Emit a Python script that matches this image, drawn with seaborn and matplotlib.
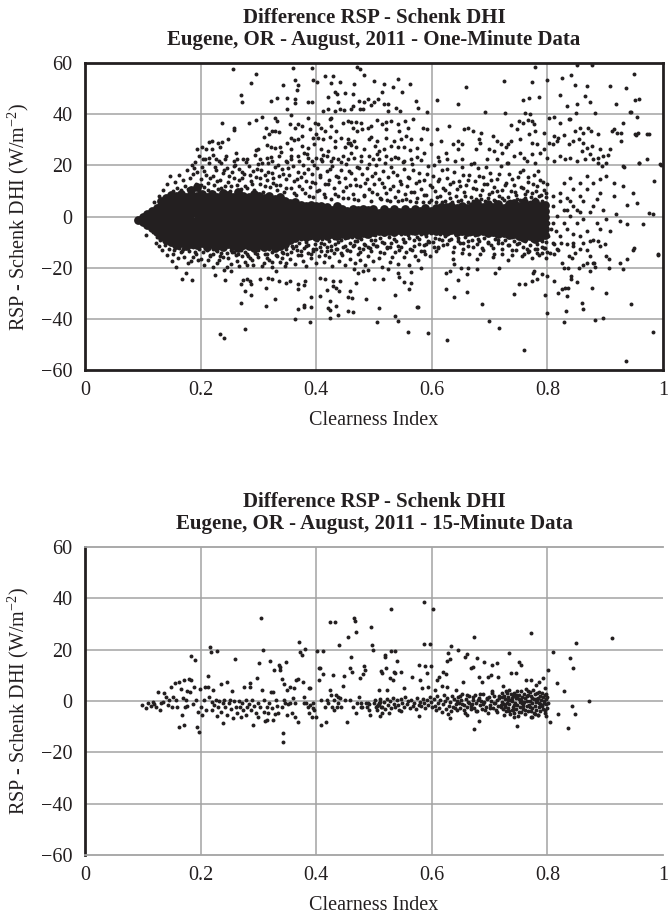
import matplotlib
matplotlib.use("Agg")
import matplotlib.pyplot as plt
import pandas as pd
import seaborn as sns

# ---------------- data ----------------
x_ticks = [0, 0.2, 0.4, 0.6, 0.8, 1]
x_tick_labels = ["0", "0.2", "0.4", "0.6", "0.8", "1"]
y_ticks = [-60, -40, -20, 0, 20, 40, 60]

title_top = "Difference RSP - Schenk DHI\nEugene, OR - August, 2011 - One-Minute Data"
title_bottom = "Difference RSP - Schenk DHI\nEugene, OR - August, 2011 - 15-Minute Data"
y_label = "RSP - Schenk DHI (W/m$^{-2}$)"
x_label = "Clearness Index"

# One-minute data: dense core of the cloud, by clearness-index column
minute_core_cols = [
    (0.092, [-1.5]), (0.100, [-2.2, -0.2]), (0.108, [-3.2, -0.9, 1.1]),
    (0.116, [-4.6, -2.3, 0.1, 2.3]), (0.124, [-6.1, -3.7, -1.3, 1.1, 3.5]),
    (0.132, [-7.8, -5.3, -2.9, -0.5, 1.9, 4.2, 5.9]),
    (0.140, [-9.2, -6.8, -4.3, -1.9, 0.5, 2.9, 5.2, 7.1]),
    (0.148, [-10.1, -7.6, -5.2, -2.8, -0.4, 2.0, 4.4, 6.7, 8.5]),
    (0.157, [-11.0, -8.5, -6.1, -3.7, -1.3, 1.1, 3.5, 5.9, 8.2]),
    (0.166, [-10.4, -8.0, -5.6, -3.2, -0.8, 1.6, 4.0, 6.4, 9.0]),
    (0.175, [-11.6, -9.1, -6.7, -4.3, -1.9, 0.5, 2.9, 5.3, 7.7]),
    (0.184, [-10.8, -8.4, -6.0, -3.6, -1.2, 1.2, 3.6, 6.0, 8.6, 10.5]),
    (0.193, [-11.2, -8.8, -6.4, -4.0, -1.6, 0.8, 3.2, 5.6, 8.0, 11.5]),
    (0.202, [-10.2, -7.8, -5.4, -3.0, -0.6, 1.8, 4.2, 6.6, 8.8]),
    (0.211, [-11.8, -9.3, -6.9, -4.5, -2.1, 0.3, 2.7, 5.1, 7.5]),
    (0.220, [-10.6, -8.2, -5.8, -3.4, -1.0, 1.4, 3.8, 6.2, 8.9]),
    (0.229, [-11.4, -9.0, -6.6, -4.2, -1.8, 0.6, 3.0, 5.4, 7.8]),
    (0.238, [-12.0, -9.6, -7.2, -4.8, -2.4, 0.0, 2.4, 4.8, 7.2, 9.2]),
    (0.247, [-10.9, -8.5, -6.1, -3.7, -1.3, 1.1, 3.5, 5.9, 8.3]),
    (0.256, [-11.5, -9.1, -6.7, -4.3, -1.9, 0.5, 2.9, 5.3, 7.7]),
    (0.265, [-12.2, -9.8, -7.4, -5.0, -2.6, -0.2, 2.2, 4.6, 7.0, 9.4]),
    (0.274, [-11.0, -8.6, -6.2, -3.8, -1.4, 1.0, 3.4, 5.8, 8.2]),
    (0.283, [-11.7, -9.3, -6.9, -4.5, -2.1, 0.3, 2.7, 5.1, 7.5]),
    (0.292, [-12.4, -10.0, -7.6, -5.2, -2.8, -0.4, 2.0, 4.4, 6.8, 8.9]),
    (0.301, [-11.3, -8.9, -6.5, -4.1, -1.7, 0.7, 3.1, 5.5, 7.9]),
    (0.310, [-12.0, -9.6, -7.2, -4.8, -2.4, 0.0, 2.4, 4.8, 7.2]),
    (0.319, [-11.1, -8.7, -6.3, -3.9, -1.5, 0.9, 3.3, 5.7, 8.1]),
    (0.328, [-12.3, -9.9, -7.5, -5.1, -2.7, -0.3, 2.1, 4.5, 6.9]),
    (0.337, [-11.4, -9.0, -6.6, -4.2, -1.8, 0.6, 3.0, 5.4, 7.6]),
    (0.346, [-10.6, -8.2, -5.8, -3.4, -1.0, 1.4, 3.8, 6.2]),
    (0.355, [-9.0, -6.6, -4.2, -1.8, 0.6, 3.0, 5.4]),
    (0.364, [-8.2, -5.8, -3.4, -1.0, 1.4, 3.8, 5.6]),
    (0.373, [-7.6, -5.2, -2.8, -0.4, 2.0, 4.4]),
    (0.382, [-8.0, -5.6, -3.2, -0.8, 1.6, 4.0]),
    (0.391, [-7.4, -5.0, -2.6, -0.2, 2.2, 4.6]),
    (0.400, [-7.9, -5.5, -3.1, -0.7, 1.7, 4.1]),
    (0.409, [-7.2, -4.8, -2.4, 0.0, 2.4, 4.3]),
    (0.418, [-7.7, -5.3, -2.9, -0.5, 1.9, 3.9]),
    (0.427, [-7.0, -4.6, -2.2, 0.2, 2.6]),
    (0.436, [-7.5, -5.1, -2.7, -0.3, 2.1, 4.0]),
    (0.445, [-6.8, -4.4, -2.0, 0.4, 2.8]),
    (0.454, [-7.3, -4.9, -2.5, -0.1, 2.3]),
    (0.463, [-6.6, -4.2, -1.8, 0.6, 3.0]),
    (0.472, [-7.1, -4.7, -2.3, 0.1, 2.5]),
    (0.481, [-6.4, -4.0, -1.6, 0.8, 3.1]),
    (0.490, [-6.9, -4.5, -2.1, 0.3, 2.6]),
    (0.499, [-6.2, -3.8, -1.4, 1.0, 2.9]),
    (0.508, [-5.8, -3.4, -1.0, 1.4]),
    (0.517, [-6.0, -3.6, -1.2, 1.2, 3.0]),
    (0.526, [-5.5, -3.1, -0.7, 1.7]),
    (0.535, [-5.9, -3.5, -1.1, 1.3, 2.9]),
    (0.544, [-5.4, -3.0, -0.6, 1.8]),
    (0.553, [-5.7, -3.3, -0.9, 1.5, 3.1]),
    (0.562, [-5.3, -2.9, -0.5, 1.9]),
    (0.571, [-5.8, -3.4, -1.0, 1.4, 3.0]),
    (0.580, [-5.2, -2.8, -0.4, 2.0]),
    (0.589, [-5.6, -3.2, -0.8, 1.6, 3.2]),
    (0.598, [-5.1, -2.7, -0.3, 2.1]),
    (0.607, [-5.7, -3.3, -0.9, 1.5, 3.4]),
    (0.616, [-5.3, -2.9, -0.5, 1.9, 3.8]),
    (0.625, [-5.9, -3.5, -1.1, 1.3, 3.6]),
    (0.634, [-5.4, -3.0, -0.6, 1.8, 4.0]),
    (0.643, [-6.0, -3.6, -1.2, 1.2, 3.5]),
    (0.652, [-5.5, -3.1, -0.7, 1.7, 4.1]),
    (0.661, [-6.1, -3.7, -1.3, 1.1, 3.5]),
    (0.670, [-5.6, -3.2, -0.8, 1.6, 4.0]),
    (0.679, [-6.2, -3.8, -1.4, 1.0, 3.4, 5.2]),
    (0.688, [-5.7, -3.3, -0.9, 1.5, 3.9]),
    (0.697, [-6.4, -4.0, -1.6, 0.8, 3.2, 5.0]),
    (0.706, [-6.0, -3.6, -1.2, 1.2, 3.6]),
    (0.715, [-6.8, -4.4, -2.0, 0.4, 2.8, 5.0]),
    (0.724, [-6.3, -3.9, -1.5, 0.9, 3.3]),
    (0.733, [-7.2, -4.8, -2.4, 0.0, 2.4, 4.8]),
    (0.742, [-6.7, -4.3, -1.9, 0.5, 2.9, 5.3]),
    (0.751, [-7.8, -5.4, -3.0, -0.6, 1.8, 4.2]),
    (0.760, [-8.4, -6.0, -3.6, -1.2, 1.2, 3.6, 5.8]),
    (0.769, [-7.6, -5.2, -2.8, -0.4, 2.0, 4.4]),
    (0.778, [-8.9, -6.5, -4.1, -1.7, 0.7, 3.1, 5.5]),
    (0.787, [-8.0, -5.6, -3.2, -0.8, 1.6, 4.0]),
    (0.796, [-7.3, -4.9, -2.5, -0.1, 2.3, 4.7]),
]

# One-minute data: scattered points above the core (y > 20)
minute_high = [
    (0.256, 57.6), (0.295, 55.7), (0.288, 52.2), (0.269, 47.6), (0.272, 44.6), (0.360, 57.9), (0.392, 57.9),
    (0.363, 53.5), (0.369, 51.4), (0.367, 49.5), (0.342, 51.4), (0.321, 45.1), (0.332, 46.5), (0.349, 46.5),
    (0.364, 45.9), (0.364, 44.3), (0.385, 44.6), (0.392, 44.8), (0.350, 42.0), (0.356, 39.6), (0.395, 53.5),
    (0.402, 52.7), (0.416, 55.0), (0.429, 54.8), (0.425, 52.2), (0.441, 52.4), (0.470, 58.3), (0.475, 57.6),
    (0.483, 55.3), (0.466, 51.8), (0.500, 53.1), (0.518, 51.8), (0.532, 50.5), (0.541, 53.7), (0.563, 51.9),
    (0.514, 48.8), (0.507, 46.1), (0.549, 48.5), (0.432, 48.5), (0.436, 47.8), (0.449, 48.1), (0.463, 47.8),
    (0.420, 46.9), (0.438, 44.6), (0.464, 43.3), (0.474, 45.2), (0.482, 44.6), (0.490, 45.9), (0.500, 44.8),
    (0.495, 43.5), (0.518, 43.9), (0.524, 43.9), (0.538, 42.6), (0.545, 41.3), (0.525, 41.3), (0.573, 45.2),
    (0.576, 42.6), (0.411, 41.3), (0.420, 42.0), (0.432, 41.3), (0.441, 42.0), (0.448, 41.7), (0.461, 42.0),
    (0.475, 42.0), (0.481, 42.0), (0.426, 38.7), (0.423, 38.0), (0.237, 36.7), (0.257, 34.8), (0.257, 33.9),
    (0.283, 36.7), (0.295, 37.8), (0.306, 39.1), (0.329, 38.7), (0.332, 37.4), (0.313, 34.8), (0.323, 33.5),
    (0.329, 33.5), (0.335, 33.1), (0.318, 32.2), (0.309, 31.2), (0.355, 36.1), (0.363, 34.8), (0.369, 36.1),
    (0.376, 35.4), (0.385, 38.7), (0.398, 36.7), (0.403, 36.1), (0.390, 34.1), (0.409, 34.8), (0.415, 33.5),
    (0.400, 32.2), (0.426, 35.4), (0.435, 33.5), (0.446, 36.7), (0.455, 37.4), (0.461, 37.0), (0.469, 37.0),
    (0.478, 36.5), (0.464, 34.8), (0.471, 33.5), (0.479, 34.1), (0.489, 34.8), (0.495, 35.4), (0.506, 37.8),
    (0.513, 36.1), (0.521, 37.0), (0.530, 37.4), (0.541, 36.1), (0.553, 37.4), (0.567, 38.0), (0.521, 34.1),
    (0.544, 33.5), (0.558, 34.8), (0.357, 30.6), (0.362, 29.8), (0.369, 30.2), (0.376, 31.5), (0.394, 30.6),
    (0.403, 30.8), (0.412, 30.2), (0.423, 31.2), (0.432, 29.5), (0.443, 30.8), (0.455, 30.2), (0.458, 28.9),
    (0.466, 29.5), (0.492, 30.2), (0.495, 31.2), (0.506, 29.5), (0.521, 30.8), (0.535, 29.5), (0.547, 30.2),
    (0.555, 31.5), (0.564, 30.2), (0.203, 27.3), (0.214, 29.2), (0.220, 29.5), (0.230, 28.9), (0.237, 29.2),
    (0.247, 30.2), (0.193, 26.3), (0.209, 26.3), (0.219, 26.5), (0.234, 27.3), (0.295, 26.0), (0.300, 26.5),
    (0.315, 27.8), (0.321, 27.3), (0.329, 26.9), (0.337, 27.3), (0.349, 28.9), (0.357, 26.3), (0.375, 27.6),
    (0.386, 26.9), (0.397, 28.2), (0.409, 26.5), (0.420, 25.6), (0.432, 27.3), (0.449, 27.3), (0.455, 28.9),
    (0.461, 27.8), (0.469, 27.3), (0.483, 26.3), (0.501, 27.6), (0.509, 25.6), (0.518, 26.5), (0.529, 27.6),
    (0.541, 27.3), (0.552, 27.3), (0.563, 26.0), (0.575, 26.9), (0.197, 23.7), (0.204, 22.4), (0.214, 23.0),
    (0.226, 22.4), (0.243, 22.4), (0.257, 21.7), (0.263, 22.4), (0.274, 22.4), (0.303, 22.4), (0.315, 23.0),
    (0.323, 21.7), (0.335, 23.7), (0.347, 21.7), (0.357, 22.4), (0.369, 23.7), (0.378, 24.7), (0.386, 23.0),
    (0.392, 21.7), (0.400, 23.0), (0.409, 22.4), (0.418, 23.7), (0.426, 21.7), (0.437, 22.6), (0.446, 23.7),
    (0.455, 22.4), (0.466, 23.0), (0.477, 21.7), (0.492, 23.7), (0.498, 22.4), (0.509, 22.6), (0.521, 23.7),
    (0.529, 22.4), (0.541, 23.0), (0.552, 21.7), (0.564, 22.4), (0.574, 23.4),
    (0.779, 58.3), (0.852, 59.2), (0.877, 59.2), (0.724, 53.1), (0.774, 52.7), (0.799, 53.5), (0.825, 54.0),
    (0.841, 55.3), (0.949, 55.6), (0.659, 50.8), (0.848, 51.4), (0.868, 51.1), (0.909, 51.1), (0.936, 50.1),
    (0.822, 47.5), (0.865, 47.2), (0.874, 44.8), (0.918, 43.9), (0.951, 45.6), (0.959, 46.1), (0.609, 45.6),
    (0.645, 43.9), (0.758, 45.4), (0.768, 46.3), (0.785, 46.9), (0.834, 43.3), (0.851, 43.9), (0.592, 41.0),
    (0.692, 41.0), (0.726, 40.3), (0.762, 40.4), (0.770, 40.0), (0.802, 38.7), (0.812, 39.1), (0.837, 38.3),
    (0.839, 38.0), (0.850, 40.4), (0.882, 40.4), (0.944, 40.7), (0.955, 39.1), (0.751, 37.4), (0.758, 36.7),
    (0.766, 37.8), (0.774, 37.4), (0.777, 36.1), (0.737, 35.7), (0.747, 34.1), (0.779, 33.5), (0.794, 32.8),
    (0.821, 36.7), (0.811, 31.5), (0.819, 30.8), (0.828, 31.8), (0.848, 33.5), (0.856, 34.8), (0.862, 32.8),
    (0.870, 34.8), (0.876, 33.5), (0.888, 32.2), (0.911, 33.5), (0.920, 32.8), (0.930, 36.7), (0.953, 31.8),
    (0.976, 32.2), (0.927, 29.5), (0.585, 34.8), (0.592, 34.4), (0.609, 34.4), (0.629, 35.4), (0.656, 34.1),
    (0.662, 34.8), (0.672, 33.5), (0.685, 32.8), (0.705, 31.5), (0.713, 29.5), (0.719, 28.2), (0.728, 27.3),
    (0.731, 28.2), (0.737, 29.5), (0.753, 30.2), (0.768, 32.2), (0.774, 28.9), (0.782, 28.2), (0.794, 26.3),
    (0.802, 28.9), (0.809, 28.2), (0.817, 29.5), (0.837, 28.2), (0.845, 29.5), (0.854, 30.2), (0.862, 28.9),
    (0.868, 26.9), (0.877, 27.6), (0.859, 25.6), (0.582, 30.2), (0.599, 28.2), (0.616, 29.5), (0.636, 28.3),
    (0.645, 29.5), (0.652, 28.2), (0.682, 30.2), (0.684, 28.6), (0.587, 25.0), (0.610, 23.4), (0.625, 25.0),
    (0.645, 26.3), (0.676, 26.3), (0.699, 26.5), (0.708, 25.6), (0.722, 25.0), (0.742, 23.7), (0.753, 25.0),
    (0.759, 23.0), (0.774, 24.3), (0.788, 25.0), (0.799, 23.0), (0.822, 23.7), (0.839, 23.0), (0.874, 24.3),
    (0.888, 23.0), (0.897, 23.7), (0.905, 23.9), (0.928, 32.5), (0.951, 32.2), (0.959, 21.0), (0.972, 22.4),
    (0.932, 19.5), (0.996, 20.3), (0.613, 21.7), (0.627, 22.4), (0.653, 22.4), (0.673, 21.0), (0.696, 22.4),
    (0.713, 22.4), (0.731, 21.0), (0.765, 21.7), (0.779, 21.0), (0.811, 21.7), (0.831, 22.4), (0.851, 21.7),
    (0.865, 22.4), (0.888, 21.0), (0.894, 19.7),
]

# One-minute data: scattered points below the core (y < -20)
minute_low = [
    (0.233, -45.8), (0.241, -47.6), (0.277, -43.9), (0.363, -40.0), (0.389, -41.3), (0.313, -35.0),
    (0.270, -33.7), (0.329, -32.4), (0.288, -30.8), (0.277, -29.2), (0.269, -26.3), (0.274, -24.8),
    (0.280, -24.6), (0.286, -25.2), (0.288, -26.5), (0.313, -28.1), (0.302, -24.6), (0.316, -23.9),
    (0.323, -24.3), (0.335, -25.2), (0.347, -25.9), (0.355, -25.2), (0.369, -26.3), (0.379, -26.9),
    (0.380, -25.2), (0.369, -28.5), (0.368, -36.3), (0.379, -34.4), (0.378, -35.4), (0.391, -35.3),
    (0.391, -31.4), (0.406, -31.1), (0.418, -28.9), (0.423, -33.1), (0.421, -35.7), (0.423, -36.6),
    (0.434, -34.8), (0.438, -38.3), (0.424, -39.7), (0.429, -27.2), (0.435, -27.8), (0.439, -29.2),
    (0.429, -25.2), (0.441, -25.2), (0.415, -24.6), (0.406, -23.9), (0.455, -31.4), (0.462, -31.8),
    (0.455, -36.9), (0.463, -37.4), (0.459, -29.2), (0.469, -25.9), (0.486, -32.2), (0.509, -35.7),
    (0.505, -41.3), (0.500, -24.3), (0.537, -30.8), (0.537, -39.0), (0.541, -40.8), (0.542, -22.0),
    (0.544, -23.5), (0.551, -25.6), (0.559, -45.0), (0.561, -28.5), (0.564, -26.1), (0.575, -35.4),
    (0.564, -21.7), (0.167, -24.3), (0.185, -24.8), (0.174, -22.2), (0.225, -23.0), (0.243, -24.8),
    (0.240, -20.9), (0.253, -21.3), (0.465, -20.4), (0.472, -22.0), (0.481, -21.4), (0.489, -21.0),
    (0.516, -24.3), (0.525, -20.4),
    (0.936, -56.6), (0.759, -52.3), (0.626, -48.4), (0.593, -45.5), (0.576, -35.4), (0.699, -40.7),
    (0.717, -43.5), (0.686, -34.0), (0.638, -31.4), (0.625, -28.5), (0.661, -29.4), (0.645, -24.8),
    (0.625, -22.0), (0.632, -21.3), (0.661, -22.4), (0.679, -20.7), (0.709, -22.0), (0.742, -30.1),
    (0.750, -26.5), (0.762, -26.3), (0.774, -25.2), (0.782, -24.3), (0.775, -22.2), (0.777, -21.3),
    (0.791, -22.4), (0.799, -23.3), (0.795, -30.8), (0.799, -37.9), (0.828, -41.3), (0.832, -37.0),
    (0.834, -31.1), (0.818, -29.8), (0.825, -28.2), (0.831, -27.8), (0.835, -27.8), (0.812, -25.2),
    (0.841, -24.6), (0.841, -23.3), (0.851, -25.6), (0.859, -33.7), (0.862, -36.3), (0.877, -27.8),
    (0.882, -40.5), (0.896, -39.7), (0.901, -29.8), (0.874, -21.3), (0.944, -34.1), (0.983, -45.0),
]

# One-minute data: moderately dense halo just above the core
minute_near_up = [
    (0.152, 9.8), (0.156, 13.5), (0.159, 11.2), (0.163, 16.4), (0.166, 10.4), (0.170, 14.1), (0.173, 12.0),
    (0.176, 18.3), (0.179, 10.9), (0.182, 15.2), (0.185, 20.1), (0.187, 16.8), (0.189, 18.9), (0.190, 21.5),
    (0.192, 12.7), (0.194, 17.6), (0.197, 10.1), (0.200, 14.8), (0.203, 19.4), (0.206, 11.6), (0.209, 16.2),
    (0.212, 13.3), (0.215, 20.8), (0.218, 9.6), (0.221, 15.7), (0.224, 12.2), (0.227, 18.1), (0.230, 10.8),
    (0.233, 14.4), (0.236, 21.0), (0.239, 16.9), (0.242, 11.9), (0.245, 19.0), (0.248, 13.6), (0.251, 9.9),
    (0.254, 17.3), (0.257, 15.0), (0.260, 20.3), (0.263, 12.5), (0.266, 18.6), (0.269, 10.6), (0.272, 14.9),
    (0.275, 16.6), (0.278, 21.4), (0.281, 11.3), (0.284, 19.6), (0.287, 13.9), (0.290, 17.8), (0.293, 10.2),
    (0.296, 15.4), (0.299, 20.6), (0.302, 12.8), (0.305, 18.0), (0.308, 9.7), (0.311, 16.1), (0.314, 14.2),
    (0.317, 20.9), (0.320, 11.4), (0.323, 17.0), (0.326, 13.1), (0.329, 19.3), (0.332, 10.5), (0.335, 15.9),
    (0.338, 12.3), (0.341, 18.7), (0.344, 9.4), (0.347, 14.6), (0.350, 21.2), (0.353, 16.3), (0.356, 11.0),
    (0.359, 19.9), (0.362, 13.8), (0.365, 8.6), (0.368, 17.4), (0.371, 12.1), (0.374, 15.6), (0.377, 20.2),
    (0.380, 9.2), (0.383, 14.0), (0.386, 18.4), (0.389, 11.7), (0.392, 16.7), (0.395, 7.8), (0.398, 13.0),
    (0.401, 19.1), (0.404, 10.3), (0.407, 15.3), (0.410, 21.6), (0.413, 8.9), (0.416, 12.6), (0.419, 17.7),
    (0.422, 14.3), (0.425, 6.9), (0.428, 19.8), (0.431, 11.1), (0.434, 16.0), (0.437, 8.1), (0.440, 13.4),
    (0.443, 18.2), (0.446, 10.0), (0.449, 15.1), (0.452, 20.7), (0.455, 7.4), (0.458, 12.4), (0.461, 17.1),
    (0.464, 9.0), (0.467, 14.7), (0.470, 19.5), (0.473, 6.6), (0.476, 11.8), (0.479, 16.5), (0.482, 8.4),
    (0.485, 13.2), (0.488, 18.8), (0.491, 10.7), (0.494, 6.2), (0.497, 15.8), (0.500, 12.9), (0.503, 20.0),
    (0.506, 8.7), (0.509, 14.5), (0.512, 6.8), (0.515, 17.9), (0.518, 11.5), (0.521, 9.3), (0.524, 15.5),
    (0.527, 5.9), (0.530, 19.2), (0.533, 12.0), (0.536, 7.7), (0.539, 16.3), (0.542, 10.1), (0.545, 13.7),
    (0.548, 6.4), (0.551, 18.5), (0.554, 8.8), (0.557, 11.9), (0.560, 15.0), (0.563, 6.0), (0.566, 20.4),
    (0.569, 9.5), (0.572, 13.3), (0.575, 7.2), (0.578, 17.2), (0.581, 10.9), (0.584, 5.8), (0.587, 14.2),
    (0.590, 8.3), (0.593, 19.7), (0.596, 12.2), (0.599, 6.5), (0.602, 16.0), (0.605, 9.8), (0.608, 5.7),
    (0.611, 13.8), (0.614, 7.9), (0.617, 18.1), (0.620, 11.3), (0.623, 6.1), (0.626, 15.2), (0.629, 9.1),
    (0.632, 12.8), (0.635, 5.6), (0.638, 17.5), (0.641, 8.0), (0.644, 10.8), (0.647, 14.0), (0.650, 6.3),
    (0.653, 19.3), (0.656, 9.6), (0.659, 12.5), (0.662, 5.5), (0.665, 16.4), (0.668, 7.5), (0.671, 11.0),
    (0.674, 13.9), (0.677, 6.7), (0.680, 18.9), (0.683, 8.6), (0.686, 10.4), (0.689, 15.6), (0.692, 5.9),
    (0.695, 12.7), (0.698, 7.3), (0.701, 17.0), (0.704, 9.4), (0.707, 11.6), (0.710, 6.0), (0.713, 14.8),
    (0.716, 8.2), (0.719, 19.8), (0.722, 10.2), (0.725, 6.6), (0.728, 13.1), (0.731, 7.8), (0.734, 16.8),
    (0.737, 9.9), (0.740, 5.8), (0.743, 12.3), (0.746, 8.5), (0.749, 15.3), (0.752, 6.4), (0.755, 11.4),
    (0.758, 18.2), (0.761, 7.1), (0.764, 10.0), (0.767, 13.6), (0.770, 5.7), (0.773, 9.2), (0.776, 16.1),
    (0.779, 6.9), (0.782, 12.0), (0.785, 8.0), (0.788, 14.4), (0.791, 6.2), (0.794, 10.5), (0.797, 7.6),
    (0.799, 12.6), (0.135, 10.5), (0.142, 12.8), (0.128, 7.9), (0.147, 15.9), (0.120, 5.5),
    (0.201, 12.2), (0.205, 17.8), (0.208, 22.5), (0.213, 10.5), (0.217, 15.1), (0.221, 24.0), (0.225, 19.4),
    (0.228, 13.7), (0.232, 21.8), (0.235, 11.3), (0.240, 18.2), (0.244, 23.6), (0.249, 15.8), (0.253, 12.0),
    (0.258, 19.9), (0.262, 24.8), (0.267, 14.3), (0.271, 17.4), (0.276, 11.9), (0.280, 22.6), (0.285, 16.2),
    (0.289, 12.6), (0.294, 24.2), (0.298, 18.4), (0.303, 14.9), (0.307, 21.1), (0.312, 11.8), (0.316, 17.3),
    (0.321, 23.4), (0.325, 15.2), (0.330, 12.4), (0.334, 20.0), (0.339, 25.1), (0.343, 16.8), (0.348, 11.1),
    (0.352, 18.9), (0.357, 23.8), (0.361, 9.3), (0.366, 14.6), (0.370, 21.7), (0.375, 10.7), (0.379, 17.0),
    (0.384, 24.5), (0.388, 8.2), (0.393, 13.5), (0.397, 20.3), (0.402, 9.9), (0.406, 16.4), (0.411, 24.1),
    (0.415, 7.6), (0.420, 12.9), (0.424, 18.6), (0.429, 22.9), (0.433, 8.8), (0.438, 15.5), (0.442, 21.3),
    (0.447, 7.1), (0.451, 11.6), (0.456, 17.8), (0.460, 24.7), (0.465, 6.8), (0.469, 12.2), (0.474, 19.0),
    (0.478, 23.5), (0.483, 7.9), (0.487, 14.8), (0.492, 20.5), (0.496, 9.7), (0.501, 16.9), (0.505, 24.3),
    (0.510, 7.4), (0.514, 13.0), (0.519, 20.8), (0.523, 6.3), (0.528, 10.9), (0.532, 17.6), (0.537, 23.1),
    (0.541, 5.9), (0.546, 12.7), (0.550, 21.4), (0.555, 7.0), (0.559, 15.4), (0.564, 9.6), (0.568, 18.3),
    (0.573, 5.6), (0.577, 13.9), (0.582, 22.2), (0.586, 8.4), (0.591, 16.5), (0.595, 5.8), (0.600, 11.7),
    (0.604, 20.1), (0.609, 7.7), (0.613, 14.6), (0.618, 5.5), (0.622, 10.3), (0.627, 18.7), (0.631, 7.2),
    (0.636, 13.4), (0.640, 21.6), (0.645, 6.0), (0.649, 11.8), (0.654, 16.2), (0.658, 7.9), (0.663, 14.1),
    (0.667, 20.6), (0.672, 6.2), (0.676, 10.6), (0.681, 15.8), (0.685, 6.9), (0.690, 12.9), (0.694, 19.4),
    (0.699, 8.8), (0.703, 14.3), (0.708, 6.5), (0.712, 10.1), (0.717, 16.6), (0.721, 7.4), (0.726, 12.4),
    (0.730, 20.9), (0.735, 6.1), (0.739, 14.7), (0.744, 9.5), (0.748, 7.0), (0.753, 17.4), (0.757, 11.2),
    (0.762, 8.7), (0.766, 15.5), (0.771, 7.7), (0.775, 12.8), (0.780, 9.8), (0.784, 17.9), (0.789, 8.6),
    (0.793, 13.5), (0.798, 9.1),
]

# One-minute data: moderately dense halo just below the core
minute_near_down = [
    (0.118, -6.2), (0.124, -7.9), (0.129, -9.3), (0.134, -8.4), (0.138, -11.0), (0.142, -9.8), (0.146, -12.5),
    (0.150, -10.6), (0.154, -13.1), (0.158, -11.8), (0.162, -12.2), (0.166, -14.0), (0.170, -12.8),
    (0.175, -11.4), (0.180, -13.6), (0.186, -12.0), (0.192, -14.6), (0.198, -12.6), (0.204, -13.8),
    (0.210, -11.9), (0.216, -14.9), (0.222, -12.7), (0.228, -13.5), (0.234, -15.3), (0.240, -12.3),
    (0.246, -14.2), (0.252, -13.0), (0.258, -11.7), (0.264, -14.7), (0.270, -12.9), (0.276, -13.9),
    (0.282, -15.6), (0.288, -12.1), (0.294, -14.4), (0.300, -13.2), (0.306, -11.8), (0.312, -14.8),
    (0.318, -12.5), (0.324, -13.7), (0.330, -15.0), (0.336, -12.2), (0.342, -14.1), (0.348, -12.8),
    (0.354, -9.4), (0.358, -11.6), (0.362, -8.8), (0.366, -13.0), (0.370, -10.2), (0.374, -8.6),
    (0.378, -12.3), (0.382, -9.9), (0.386, -11.1), (0.390, -8.4), (0.394, -13.4), (0.398, -10.6),
    (0.402, -9.1), (0.406, -12.0), (0.410, -8.9), (0.414, -10.8), (0.418, -13.6), (0.422, -9.5),
    (0.426, -11.4), (0.430, -8.2), (0.434, -12.7), (0.438, -10.0), (0.442, -9.3), (0.446, -11.9),
    (0.450, -8.5), (0.454, -13.1), (0.458, -10.4), (0.462, -8.0), (0.466, -11.2), (0.470, -9.7),
    (0.474, -12.4), (0.478, -8.7), (0.482, -10.9), (0.486, -7.6), (0.490, -12.1), (0.494, -9.0),
    (0.498, -10.7), (0.502, -7.2), (0.506, -11.5), (0.510, -8.3), (0.514, -9.8), (0.518, -6.9),
    (0.522, -12.2), (0.526, -8.1), (0.530, -10.3), (0.534, -7.0), (0.538, -9.5), (0.542, -11.6),
    (0.546, -6.7), (0.550, -8.9), (0.554, -10.1), (0.558, -7.4), (0.562, -12.5), (0.566, -6.5),
    (0.570, -9.2), (0.574, -8.0), (0.578, -10.6), (0.582, -6.8), (0.586, -11.3), (0.590, -7.7),
    (0.594, -9.6), (0.598, -6.4), (0.602, -10.0), (0.606, -8.2), (0.610, -11.8), (0.614, -6.9),
    (0.618, -9.1), (0.622, -7.5), (0.626, -10.9), (0.630, -6.6), (0.634, -8.7), (0.638, -12.0),
    (0.642, -7.1), (0.646, -9.4), (0.650, -6.3), (0.654, -10.5), (0.658, -8.0), (0.662, -11.4),
    (0.666, -6.8), (0.670, -9.0), (0.674, -7.3), (0.678, -10.8), (0.682, -6.5), (0.686, -12.3),
    (0.690, -8.5), (0.694, -7.0), (0.698, -9.9), (0.702, -11.1), (0.706, -6.7), (0.710, -8.8),
    (0.714, -10.2), (0.718, -7.4), (0.722, -12.6), (0.726, -9.3), (0.730, -6.9), (0.734, -11.0),
    (0.738, -8.1), (0.742, -9.7), (0.746, -13.2), (0.750, -10.4), (0.754, -8.6), (0.758, -12.1),
    (0.762, -9.6), (0.766, -14.0), (0.770, -11.2), (0.774, -9.0), (0.778, -12.8), (0.782, -10.7),
    (0.786, -15.1), (0.790, -9.4), (0.794, -12.3), (0.797, -10.0), (0.799, -13.8),
    (0.106, -7.1), (0.122, -10.4), (0.141, -15.0), (0.150, -17.5), (0.158, -19.6), (0.133, -13.0),
    (0.128, -11.5),
    (0.168, -13.5), (0.172, -15.8), (0.178, -12.2), (0.183, -17.4), (0.190, -14.0), (0.196, -11.8),
    (0.201, -16.7), (0.206, -18.9), (0.211, -13.2), (0.216, -15.5), (0.222, -19.6), (0.226, -12.9),
    (0.231, -17.0), (0.236, -14.3), (0.242, -11.6), (0.247, -16.1), (0.252, -18.6), (0.257, -13.8),
    (0.262, -15.2), (0.266, -19.3), (0.271, -12.4), (0.276, -17.7), (0.281, -14.7), (0.286, -16.4),
    (0.291, -19.0), (0.295, -13.1), (0.300, -15.9), (0.305, -12.0), (0.309, -18.2), (0.314, -14.5),
    (0.318, -16.8), (0.323, -19.8), (0.327, -12.6), (0.332, -15.3), (0.337, -17.6), (0.341, -13.9),
    (0.346, -19.2), (0.350, -14.8), (0.355, -16.6), (0.359, -12.3), (0.364, -18.4), (0.368, -15.0),
    (0.373, -13.4), (0.377, -17.2), (0.382, -19.5), (0.386, -14.1), (0.391, -16.3), (0.395, -12.8),
    (0.400, -18.0), (0.404, -15.6), (0.409, -13.6), (0.413, -17.9), (0.418, -11.9), (0.422, -16.0),
    (0.427, -19.4), (0.431, -14.4), (0.436, -12.5), (0.440, -17.3), (0.445, -15.1), (0.449, -19.1),
    (0.454, -13.0), (0.458, -16.5), (0.463, -11.7), (0.467, -18.1), (0.472, -14.6), (0.476, -16.9),
    (0.481, -12.7), (0.485, -18.8), (0.490, -15.4), (0.494, -13.3), (0.499, -17.5), (0.503, -11.5),
    (0.508, -16.2), (0.513, -19.7), (0.517, -14.2), (0.522, -12.1), (0.527, -17.8), (0.531, -15.7),
    (0.536, -13.7), (0.541, -18.5), (0.546, -11.8), (0.551, -16.0), (0.556, -14.0), (0.561, -19.0),
    (0.566, -12.9), (0.571, -15.5), (0.576, -17.1), (0.581, -13.5),
    (0.581, -20.0), (0.589, -14.8), (0.596, -15.4), (0.607, -13.5), (0.636, -16.7), (0.639, -18.7),
    (0.650, -20.0), (0.662, -20.0), (0.679, -16.7), (0.684, -14.8), (0.708, -14.8), (0.705, -15.7),
    (0.716, -20.0), (0.732, -17.0), (0.739, -15.2), (0.759, -14.8), (0.653, -14.1), (0.665, -14.8),
    (0.590, -10.8), (0.610, -12.2), (0.648, -10.2), (0.682, -9.5), (0.722, -10.2), (0.768, -13.5),
    (0.782, -12.8), (0.791, -14.1), (0.796, -12.2),
    (0.152, -14.8), (0.161, -16.3), (0.169, -10.9), (0.178, -18.0), (0.187, -15.7), (0.195, -17.1),
    (0.204, -10.8), (0.212, -16.9), (0.221, -14.5), (0.229, -18.3), (0.238, -16.0), (0.246, -19.9),
    (0.255, -14.0), (0.263, -17.3), (0.272, -15.3), (0.280, -18.8), (0.289, -17.0), (0.297, -14.7),
    (0.306, -19.5), (0.314, -16.2), (0.323, -17.9), (0.331, -21.1), (0.340, -16.4), (0.348, -18.0),
    (0.357, -13.9), (0.365, -11.4), (0.374, -15.2), (0.382, -11.7), (0.391, -14.5), (0.399, -12.6),
    (0.408, -10.3), (0.416, -15.0), (0.425, -12.9), (0.433, -10.6), (0.442, -14.3), (0.450, -11.5),
    (0.459, -13.6), (0.467, -9.6), (0.476, -14.0), (0.484, -11.0), (0.493, -12.4), (0.501, -9.3),
    (0.510, -13.8), (0.518, -10.4), (0.527, -12.0), (0.535, -8.6), (0.544, -13.1), (0.552, -10.0),
    (0.561, -8.4), (0.569, -11.6), (0.578, -8.9), (0.586, -13.4), (0.595, -9.8), (0.603, -12.1),
    (0.612, -8.7), (0.620, -11.2), (0.629, -9.0), (0.637, -13.9), (0.646, -8.3), (0.654, -12.6),
    (0.663, -9.5), (0.671, -11.8), (0.680, -8.6), (0.688, -13.2), (0.697, -10.3), (0.705, -12.4),
    (0.714, -9.1), (0.722, -14.6), (0.731, -11.1), (0.739, -13.0), (0.748, -10.9), (0.756, -15.4),
    (0.765, -12.5), (0.773, -16.2), (0.782, -14.3), (0.790, -11.8), (0.798, -16.4),
]

# One-minute data: sparse points beyond clearness index 0.8 (|y| < 20)
minute_clear = [
    (0.805, -14.1), (0.811, -14.8), (0.823, -10.2), (0.845, -10.2), (0.862, -10.5), (0.874, -9.5),
    (0.828, -20.0), (0.835, -20.0), (0.855, -20.0), (0.862, -19.1), (0.868, -18.3), (0.880, -18.0),
    (0.825, -18.0), (0.838, -15.4), (0.842, -16.1), (0.848, -14.1), (0.857, -12.8), (0.817, -12.8),
    (0.812, -10.8), (0.873, -15.4), (0.888, -9.5), (0.900, -10.8), (0.882, -19.6), (0.907, -20.0),
    (0.930, -20.4), (0.906, -16.5), (0.938, -16.5), (0.992, -14.8), (0.949, -12.2),
    (0.810, 4.1), (0.822, 6.1), (0.833, 2.7), (0.845, 4.1), (0.856, 1.6), (0.862, -1.1), (0.885, -2.4),
    (0.891, -5.0), (0.902, -1.1), (0.908, -5.7), (0.919, 0.9), (0.925, -1.8), (0.937, -3.1), (0.948, -12.9),
    (0.955, 5.1), (0.966, -3.1), (0.976, 1.2), (0.985, 13.9), (0.991, -14.9), (0.994, 20.4), (0.982, 0.8),
    (0.959, 21.0), (0.931, 19.7), (0.879, 22.4), (0.902, 21.0), (0.891, 14.5), (0.902, 15.8), (0.915, 13.2),
    (0.879, 13.2), (0.868, 10.6), (0.891, 9.3), (0.915, 8.0), (0.931, 11.9), (0.937, 4.7), (0.948, 9.3),
    (0.856, 13.2), (0.845, 10.6), (0.856, 8.0), (0.839, 15.2), (0.828, 13.2), (0.868, 15.8), (0.822, 9.3),
    (0.816, 0.2), (0.828, -2.4), (0.839, 0.2), (0.851, -2.4), (0.833, -5.0), (0.845, -6.9), (0.822, -7.6),
    (0.856, -7.6), (0.868, -5.7), (0.879, -9.0), (0.833, -10.9), (0.810, -10.3), (0.819, -12.9),
    (0.845, -11.6), (0.868, -12.9), (0.891, -11.6), (0.902, -15.5), (0.879, -18.2), (0.925, -18.2),
    (0.801, -2.4), (0.807, -5.0), (0.801, -7.6), (0.810, -2.4), (0.815, -5.7), (0.828, 2.7), (0.851, 2.7),
    (0.873, 1.6), (0.879, 4.1), (0.896, 2.7), (0.862, 6.1), (0.885, 6.7), (0.839, 6.1), (0.810, 8.0),
    (0.833, 7.4), (0.891, 26.3), (0.908, 26.3), (0.915, 34.1), (0.943, 40.7), (0.956, 32.8), (0.973, 32.2),
]

# 15-minute data: scattered points
quarter_points = [
    (0.099, -1.6), (0.106, -2.9), (0.109, -0.6), (0.115, -1.9), (0.117, -0.3), (0.120, -1.2), (0.123, -2.2),
    (0.126, 3.6), (0.129, -3.7), (0.132, -0.9), (0.135, -0.3), (0.137, 3.0), (0.140, 1.7), (0.143, -1.6),
    (0.146, 0.4), (0.148, 5.3), (0.150, -2.2), (0.152, 1.7), (0.155, 6.9), (0.157, 0.4), (0.159, -2.2),
    (0.162, 7.5), (0.163, -10.0), (0.166, 4.6), (0.167, -5.5), (0.169, 1.0), (0.171, 8.2), (0.172, -9.4),
    (0.173, -2.5), (0.174, 0.4), (0.176, 4.0), (0.177, -2.0), (0.180, 8.6), (0.181, 3.6), (0.183, 8.2),
    (0.184, 17.4), (0.186, -1.0), (0.189, 5.6), (0.191, 16.0), (0.192, 0.4), (0.194, -10.1), (0.195, -4.2),
    (0.197, -12.1), (0.199, 4.6), (0.200, -2.2), (0.203, -5.5), (0.205, 0.4), (0.207, 5.3), (0.209, -3.5),
    (0.212, 9.7), (0.213, 5.3), (0.215, 1.7), (0.216, 21.2), (0.218, 19.2), (0.219, -0.3), (0.220, -3.5),
    (0.222, 4.4), (0.223, -1.6), (0.226, 0.4), (0.228, -5.7), (0.229, 19.6), (0.230, -2.5), (0.232, 0.1),
    (0.235, 6.6), (0.236, -4.2), (0.238, -0.9), (0.239, -8.4), (0.241, 0.4), (0.243, -2.5), (0.245, 7.4),
    (0.246, -5.5), (0.249, -0.9), (0.251, 0.4), (0.252, -3.2), (0.255, 4.0), (0.256, -6.6), (0.258, 0.1),
    (0.260, 16.2), (0.262, -2.2), (0.263, -4.8), (0.266, 0.1), (0.268, -2.5), (0.269, -6.1), (0.272, -0.9),
    (0.274, -3.5), (0.275, 5.3), (0.278, 0.4), (0.279, -5.5), (0.281, -2.5), (0.284, -1.0), (0.285, 5.3),
    (0.286, 7.1), (0.288, -3.5), (0.289, 0.4), (0.291, -9.4), (0.292, -1.9), (0.295, -4.8), (0.297, 9.1),
    (0.299, -0.9), (0.300, -6.4), (0.301, 14.8), (0.303, -2.5), (0.304, 32.2), (0.306, 4.3), (0.308, 19.8),
    (0.309, -4.2), (0.310, 0.4), (0.312, -7.8), (0.314, -2.2), (0.315, -7.4), (0.316, -4.8), (0.318, -0.9),
    (0.320, 15.6), (0.321, 3.6), (0.323, -2.9), (0.325, -7.4), (0.326, 3.4), (0.327, 12.0), (0.329, -5.1),
    (0.330, 0.4), (0.332, -1.9), (0.334, -4.8), (0.335, 14.0), (0.337, 13.4), (0.338, 12.1), (0.340, -2.2),
    (0.341, 8.7), (0.343, -12.6), (0.343, -15.8), (0.344, 6.6), (0.345, 0.4), (0.346, -0.9), (0.348, 15.2),
    (0.349, 4.3), (0.350, -5.5), (0.352, -1.3), (0.354, 5.3), (0.355, -0.9), (0.358, -4.8), (0.360, 1.0),
    (0.361, 5.1), (0.363, -0.9), (0.364, -6.4), (0.365, 8.2), (0.368, -8.0), (0.369, 8.7), (0.371, 23.0),
    (0.372, 19.1), (0.375, 17.9), (0.377, 7.4), (0.378, -0.9), (0.379, 1.7), (0.381, 20.3), (0.383, -0.9),
    (0.385, -2.2), (0.387, 5.2), (0.388, -4.8), (0.389, 5.1), (0.390, -1.6), (0.392, -6.1), (0.394, -2.9),
    (0.395, -0.9), (0.397, -3.5), (0.399, -6.1), (0.401, 19.6), (0.404, 12.9), (0.405, 8.2), (0.406, 12.9),
    (0.408, -9.4), (0.409, 0.4), (0.411, 10.4), (0.412, 19.6), (0.415, -2.2), (0.417, -8.0), (0.418, 0.4),
    (0.420, -0.9), (0.423, 30.6), (0.424, 4.3), (0.425, 2.3), (0.427, -2.2), (0.429, 10.0), (0.430, -3.5),
    (0.431, 0.4), (0.433, 30.8), (0.434, 2.3), (0.436, -2.2), (0.437, 1.7), (0.438, -0.6), (0.440, 22.0),
    (0.441, 1.3), (0.443, -2.5), (0.446, 5.8), (0.448, 9.7), (0.450, 0.4), (0.453, -8.0), (0.455, 24.9),
    (0.458, 0.4), (0.459, 12.9), (0.461, 17.2), (0.462, 11.3), (0.464, -2.2), (0.465, 32.3), (0.467, 31.0),
    (0.468, -4.8), (0.469, 27.0), (0.471, -0.9), (0.474, 1.7), (0.475, 8.8), (0.477, -2.2), (0.478, -0.6),
    (0.480, -2.2), (0.481, 10.4), (0.483, 13.6), (0.484, 12.1), (0.486, -0.9), (0.488, -2.2), (0.490, -0.6),
    (0.491, -1.0), (0.492, -3.5), (0.493, -5.5), (0.495, 28.9), (0.496, 21.9), (0.498, 20.0), (0.500, -0.9),
    (0.501, 0.4), (0.503, -2.2), (0.505, -3.5), (0.506, -2.0), (0.507, -1.6), (0.509, -0.9), (0.510, -0.3),
    (0.512, -2.2), (0.514, -4.5),
    (0.530, 35.8), (0.586, 38.7), (0.602, 35.8), (0.586, 22.1), (0.597, 22.1), (0.530, 19.5), (0.537, 19.5),
    (0.519, 17.9), (0.519, 17.3), (0.540, 15.6), (0.512, 11.8), (0.520, 12.7), (0.514, 10.8), (0.534, 11.4),
    (0.546, 11.4), (0.528, 8.8), (0.532, 8.2), (0.537, 10.8), (0.509, 4.3), (0.523, 4.3), (0.552, 4.9),
    (0.566, 9.5), (0.578, 14.0), (0.589, 13.6), (0.591, 10.8), (0.579, 8.2), (0.583, 4.9), (0.594, 5.3),
    (0.599, 13.6), (0.605, 4.3), (0.609, 8.2), (0.612, 9.5), (0.619, 11.4), (0.625, 10.5), (0.628, 18.8),
    (0.633, 21.4), (0.645, 19.9), (0.632, 16.2), (0.626, 15.7), (0.617, 5.8), (0.626, 5.6), (0.642, 4.3),
    (0.654, 7.5), (0.658, 17.3), (0.660, 18.2), (0.673, 25.1), (0.668, 12.7), (0.672, 13.4), (0.679, 16.6),
    (0.682, 9.5), (0.687, 7.5), (0.691, 15.3), (0.697, 9.5), (0.702, 10.1), (0.704, 14.0), (0.712, 14.7),
    (0.714, 9.2), (0.704, 4.0), (0.723, 5.8), (0.733, 18.6), (0.737, 11.0), (0.746, 10.8), (0.750, 15.3),
    (0.754, 14.0), (0.763, 8.2), (0.771, 8.2), (0.772, 26.6), (0.780, 6.2), (0.786, 7.5), (0.792, 8.8),
    (0.795, 4.9), (0.801, 12.1), (0.809, 19.0), (0.816, 6.9), (0.828, 4.0), (0.839, 16.6), (0.845, 12.7),
    (0.850, 22.7), (0.872, 0.0), (0.911, 24.7), (0.842, -1.9), (0.847, -5.2), (0.836, -10.6), (0.818, -5.2),
    (0.805, -8.1), (0.798, -5.8), (0.748, -9.7), (0.673, -10.8), (0.682, -7.7), (0.631, -6.8), (0.628, -5.1),
    (0.578, -6.0), (0.511, -6.0), (0.526, -4.5), (0.546, -3.8), (0.661, -5.5), (0.743, -6.4), (0.774, -6.1),
    (0.783, -5.5),
]

# 15-minute data: the dense band around zero
quarter_band = [
    (0.508, -1.2), (0.511, 0.6), (0.514, -2.4), (0.517, -0.5), (0.519, -3.1), (0.522, 0.9), (0.524, -1.7),
    (0.527, -0.2), (0.529, -2.9), (0.532, 1.2), (0.534, -1.0), (0.537, -2.2), (0.539, 0.3), (0.542, -1.6),
    (0.544, -3.4), (0.547, 0.7), (0.549, -0.8), (0.552, -2.5), (0.554, 1.4), (0.557, -1.3), (0.559, -0.1),
    (0.562, -2.8), (0.564, 0.5), (0.567, -1.9), (0.569, -0.6), (0.572, -3.0), (0.574, 1.1), (0.577, -1.4),
    (0.579, -0.3), (0.582, -2.1), (0.584, 0.8), (0.587, -0.9), (0.589, -2.6), (0.592, 0.2), (0.594, -1.5),
    (0.597, 1.6), (0.599, -0.4), (0.601, -2.3),
    (0.603, 0.9), (0.605, -1.8), (0.607, -3.6), (0.609, 1.9), (0.611, -0.6), (0.613, -2.7), (0.615, 0.3),
    (0.617, -4.4), (0.619, -1.2), (0.621, 2.4), (0.623, -0.2), (0.625, -3.1), (0.627, 1.1), (0.629, -1.9),
    (0.631, -0.5), (0.633, -4.0), (0.635, 2.0), (0.637, -2.4), (0.639, 0.6), (0.641, -1.1), (0.643, -3.5),
    (0.645, 1.5), (0.647, -0.7), (0.649, -2.8), (0.651, 0.2), (0.653, 2.8), (0.655, -1.6), (0.657, -4.7),
    (0.659, 0.9), (0.661, -2.2), (0.663, -0.3), (0.665, 1.8), (0.667, -3.3), (0.669, -1.0), (0.671, 0.5),
    (0.673, -2.6), (0.675, 2.3), (0.677, -0.8), (0.679, -4.1), (0.681, 1.2), (0.683, -1.7), (0.685, -0.1),
    (0.687, -3.0), (0.689, 2.6), (0.691, -0.5), (0.693, -2.3), (0.695, 0.8), (0.697, -4.6), (0.699, 1.7),
    (0.701, -1.4), (0.703, -0.2), (0.705, -2.9), (0.707, 2.1), (0.709, -0.9), (0.711, -3.7), (0.713, 0.4),
    (0.715, -1.8), (0.717, 1.3), (0.719, -2.5), (0.721, 3.0),
    (0.640, -2.9), (0.644, 0.0), (0.648, 2.1), (0.652, -1.3), (0.656, -3.7), (0.660, 2.5), (0.664, -0.9),
    (0.668, -2.0), (0.672, 1.5), (0.676, -3.8), (0.680, 0.2), (0.684, 2.9), (0.688, -1.1), (0.692, -3.4),
    (0.696, 1.0), (0.700, -2.6), (0.704, 3.2), (0.708, -0.6), (0.712, -4.3), (0.716, 1.9), (0.720, -1.5),
    (0.722, -0.4), (0.723, -3.2), (0.724, 2.1), (0.725, -5.6), (0.726, 0.8), (0.727, -1.9), (0.728, 3.7),
    (0.729, -4.1), (0.730, -0.8), (0.731, 1.6), (0.732, -2.8), (0.733, 4.4), (0.734, -1.2), (0.735, -5.0),
    (0.736, 0.3), (0.737, 2.7), (0.738, -3.6), (0.739, -0.1), (0.740, 1.9), (0.741, -2.2), (0.742, -4.7),
    (0.743, 3.3), (0.744, -0.7), (0.745, 1.1), (0.746, -3.0), (0.747, 4.0), (0.748, -1.6), (0.749, -5.9),
    (0.750, 0.6), (0.751, 2.4), (0.752, -2.5), (0.753, -0.3), (0.754, 3.8), (0.755, -4.3), (0.756, 1.4),
    (0.757, -1.1), (0.758, -3.3), (0.759, 2.9), (0.760, -0.5), (0.761, -5.2), (0.762, 1.0), (0.763, 4.6),
    (0.764, -2.0), (0.765, -0.2), (0.766, 2.2), (0.767, -3.9), (0.768, -1.4), (0.769, 3.5), (0.770, 0.1),
    (0.771, -6.1), (0.772, 1.8), (0.773, -2.7), (0.774, -0.6), (0.775, 4.1), (0.776, -4.5), (0.777, 0.9),
    (0.778, -1.8), (0.779, 2.6), (0.780, -3.4), (0.781, -0.4), (0.782, 3.0), (0.783, -5.4), (0.784, 1.3),
    (0.785, -2.3), (0.786, -0.9), (0.787, 2.0), (0.788, -4.0), (0.789, 0.4), (0.790, 3.3), (0.791, -1.5),
    (0.792, -3.1), (0.793, 1.7), (0.794, -0.2), (0.795, -4.8), (0.796, 2.5), (0.797, -1.0), (0.798, 0.7),
    (0.799, -2.6), (0.800, 1.5), (0.801, -0.8),
    (0.722, 1.4), (0.726, -2.4), (0.730, 3.0), (0.734, -3.8), (0.738, 1.0), (0.742, -1.5), (0.746, 2.3),
    (0.750, -4.4), (0.754, 0.5), (0.758, -1.9), (0.762, -3.6), (0.766, 3.9), (0.770, -2.2), (0.774, 1.2),
    (0.778, -5.0), (0.782, 0.3), (0.786, 3.6), (0.790, -2.0), (0.794, -0.9), (0.798, 2.8), (0.724, -1.0),
    (0.732, 0.2), (0.740, -3.4), (0.748, 1.9), (0.756, -0.8), (0.764, 2.0), (0.772, -4.0), (0.780, 0.8),
    (0.788, -1.2), (0.796, -3.5),
]

# ---------------- build tables ----------------
core_df = pd.DataFrame(
    [(x, y) for x, ys in minute_core_cols for y in ys], columns=["ci", "diff"]
)
minute_df = pd.DataFrame(
    minute_high + minute_low + minute_near_up + minute_near_down + minute_clear,
    columns=["ci", "diff"],
)
quarter_df = pd.DataFrame(quarter_points + quarter_band, columns=["ci", "diff"])

# ---------------- style ----------------
sns.set_theme(style="white")
plt.rcParams["font.family"] = ["Liberation Serif", "DejaVu Serif"]
plt.rcParams["mathtext.fontset"] = "custom"
plt.rcParams["mathtext.rm"] = "Liberation Serif"
plt.rcParams["mathtext.it"] = "Liberation Serif:italic"
plt.rcParams["axes.unicode_minus"] = True

INK = "#231f20"
GRID = "#a3a3a3"
FS = 14.5
TFS = 15

fig = plt.figure(figsize=(6.70, 9.23), dpi=100)
ax1 = fig.add_axes([0.1269, 0.5991, 0.8627, 0.3326])
ax2 = fig.add_axes([0.1269, 0.0737, 0.8627, 0.3337])


def dress(ax, title, framed):
    ax.set_xlim(0, 1)
    ax.set_ylim(-60, 60)
    for v in x_ticks[1:-1]:
        ax.axvline(v, color=GRID, lw=1.1, zorder=0)
    for h in y_ticks[1:-1]:
        ax.axhline(h, color=GRID, lw=1.1, zorder=0)
    ax.set_xticks(x_ticks)
    ax.set_xticklabels(x_tick_labels)
    ax.set_yticks(y_ticks)
    ax.tick_params(axis="both", direction="out", length=4, width=1, color=INK,
                   labelsize=FS, labelcolor=INK)
    ax.tick_params(axis="y", pad=5)
    ax.tick_params(axis="x", pad=4)
    ax.set_xlabel(x_label, fontsize=FS, color=INK, labelpad=8)
    ax.set_ylabel(y_label, fontsize=FS, color=INK, labelpad=7)
    ax.set_title(title, fontsize=TFS, fontweight="bold", color=INK, linespacing=1.15, pad=13)
    for name, sp in ax.spines.items():
        sp.set_visible(True)
        if framed:
            sp.set_color(INK)
            sp.set_linewidth(2.0)
        else:
            if name == "left":
                sp.set_color(INK)
                sp.set_linewidth(2.0)
            elif name == "right":
                sp.set_visible(False)
            else:
                sp.set_color(GRID)
                sp.set_linewidth(1.3)


sns.scatterplot(data=core_df, x="ci", y="diff", ax=ax1, s=40, color=INK,
                linewidth=0, zorder=3, legend=False)
sns.scatterplot(data=minute_df, x="ci", y="diff", ax=ax1, s=8, color=INK,
                linewidth=0, zorder=3, legend=False)
sns.scatterplot(data=quarter_df, x="ci", y="diff", ax=ax2, s=8, color=INK,
                linewidth=0, zorder=3, legend=False)

dress(ax1, title_top, True)
dress(ax2, title_bottom, False)

fig.savefig("out.png", dpi=100)
